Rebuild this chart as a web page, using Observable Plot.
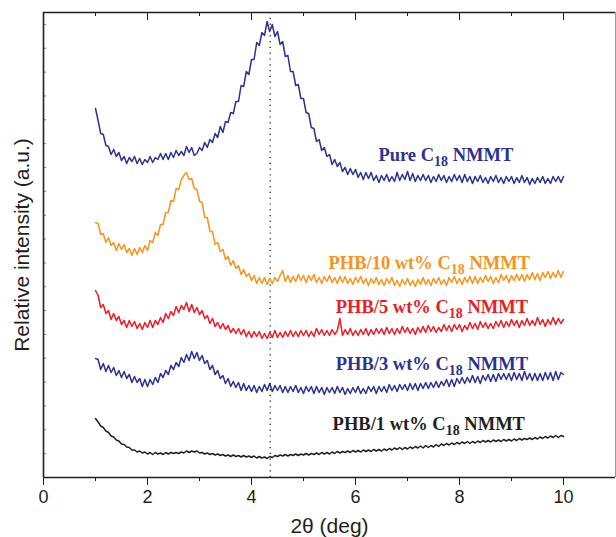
<!DOCTYPE html>
<html><head><meta charset="utf-8">
<script src="https://cdn.jsdelivr.net/npm/d3@7"></script>
<script src="https://cdn.jsdelivr.net/npm/@observablehq/plot@0.6"></script>
<style>body{margin:0;background:#fff}</style>
</head><body><div id="chart"></div>
<script>
// 2θ sampling: first angle and step (deg)
const twoThetaStart = 1.0;
const twoThetaStep = 0.05;

// Relative intensity (a.u.), one value per 0.05° from 1.00° to 10.00°
const pure = [
369,357,344,343,332,331,323,328,321,325,317,321,314,320,316,321,314,319,313,318,
315,321,315,320,318,324,318,324,318,325,320,327,322,326,322,331,325,330,322,324,
330,327,335,330,338,335,344,340,351,345,356,355,365,364,376,376,392,391,406,403,
418,418,435,432,445,442,456,446,453,441,446,433,436,421,422,406,406,392,393,379,
379,365,364,350,349,336,338,327,330,321,323,313,318,311,315,306,310,303,309,303,
308,300,305,298,305,299,305,297,302,295,302,297,303,296,301,296,305,297,303,298,
306,297,304,296,302,297,303,297,302,295,301,296,303,297,302,295,301,296,303,297,
302,295,303,296,301,294,301,296,302,295,300,294,301,296,302,295,300,294,301,296,
301,294,300,295,302,295,300,293,299,294,300,295,301,294,299,294,301,296,301,295,
301];
const phb10 = [
255,254,243,244,235,240,232,235,227,234,228,233,225,229,222,229,223,230,225,232,
227,237,235,245,242,253,253,265,265,277,276,289,288,298,302,305,298,299,289,288,
276,275,260,260,246,246,233,235,226,228,218,221,212,217,209,212,203,208,201,204,
197,202,194,200,194,200,193,199,194,200,196,202,207,196,202,195,201,196,203,197,
202,195,202,197,203,195,200,194,201,196,202,195,200,194,201,195,201,194,199,193,
200,195,201,194,199,192,199,194,200,193,198,192,199,194,200,192,197,191,198,193,
199,192,197,191,198,193,200,193,198,192,199,194,200,193,198,192,200,195,201,194,
199,193,200,195,201,194,201,194,200,195,202,196,201,194,200,195,203,197,202,195,
202,197,203,197,203,196,203,198,205,198,204,197,205,200,206,199,205,200,207,200,
206];
const phb5 = [
187,182,170,173,164,167,158,164,157,161,153,157,150,157,151,156,149,154,148,155,
150,157,150,157,153,160,155,164,159,166,162,171,165,172,168,175,166,173,165,170,
163,167,159,162,154,159,151,155,149,154,148,152,145,149,144,149,143,148,141,146,
140,146,141,146,139,144,139,145,140,147,140,145,140,146,141,147,141,146,141,147,
142,147,141,146,141,149,143,148,142,147,142,148,143,147,159,142,148,143,149,142,
147,142,148,143,149,142,148,143,149,144,149,143,150,144,149,143,149,144,151,145,
150,144,149,143,150,145,151,145,152,146,151,145,150,146,153,147,152,146,153,148,
153,146,152,148,155,149,154,148,156,150,155,149,154,149,156,151,157,150,156,151,
158,152,157,150,157,152,159,152,157,152,160,153,158,151,158,153,160,153,159,154,
158];
const phb3 = [
119,118,108,114,106,112,105,110,102,107,100,106,99,103,95,101,95,99,91,98,
91,98,93,100,95,104,100,107,103,112,108,115,111,120,115,123,117,126,119,125,
117,122,114,117,108,112,103,107,99,102,94,99,91,96,90,95,87,94,87,92,
86,92,85,91,86,93,87,94,86,92,87,92,85,91,85,91,86,92,85,90,
84,91,86,91,84,91,85,90,83,90,85,90,84,91,85,90,83,89,84,90,
85,91,84,89,84,91,86,91,84,91,86,91,85,93,87,92,86,93,88,93,
87,94,88,94,87,94,89,95,89,95,90,96,90,96,92,98,91,98,91,99,
94,100,94,100,95,102,95,101,94,102,97,103,96,103,96,104,98,104,98,104,
97,105,98,104,97,106,98,104,97,104,97,104,97,105,98,105,97,106,98,105,
103];
const phb1 = [
59,55.5,51.5,50,46.5,45,41.5,40.5,37.5,36.5,33.5,33,30.5,30,27.5,27.5,25.5,26.5,24.5,25.5,
23.5,25,23,25,23.5,24.5,23,25,23.5,25,24,25,24,25.5,24.5,26.5,25,26.5,25.5,26.5,
24.5,25,23.5,24.5,23,24,22.5,23.5,22,23,21.5,22.5,21,22.5,21,22,20.5,22,20.5,21.5,
20,21.5,19.5,21,19.5,20.5,19,21,20,22,21,22.5,21.5,23,21.5,23,22,23.5,22,23.5,
22.5,24,22.5,24,23,24.5,23,25,23.5,25,23.5,25.5,24,26,24.5,26,25,26.5,25,27,
25.5,27,25.5,27.5,26,27.5,26,28,26.5,28,26.5,28.5,27,29,27.5,29.5,28,30,28,30,
28.5,30.5,29,31,29.5,31.5,29.5,32,30,32,30.5,33,31,33.5,32,34,32.5,34.5,33,35,
33.5,35.5,34,36,34,36,34.5,36.5,35,37,35.5,37,35.5,37.5,36,37.5,36,38,36.5,38,
36.5,38.5,37,39,37.5,39,38,39.5,38,40,38.5,40.5,39,41,39.5,41.5,40,42,40,42,
41];

const seriesNames = ["Pure C18 NMMT", "PHB/10 wt% C18 NMMT", "PHB/5 wt% C18 NMMT", "PHB/3 wt% C18 NMMT", "PHB/1 wt% C18 NMMT"];
const seriesColors = ["#2e3192", "#f7941d", "#ed1c24", "#2e3192", "#231f20"];
const labelAngle = [6.44, 5.48, 5.62, 5.62, 5.56];
const labelIntensity = [317, 209, 165, 108, 48];
const xTicks = [0, 2, 4, 6, 8, 10];
const xMinorTicks = [1, 3, 5, 7, 9];
const peakAngle = 4.36;
const intensityTop = 465;
const intensityTicks = d3.range(1, 20).map(k => k * intensityTop / 19.5);

const seriesValues = [pure, phb10, phb5, phb3, phb1];
const rows = seriesValues.flatMap((vals, s) =>
  vals.map((v, i) => ({series: seriesNames[s], angle: +(twoThetaStart + i * twoThetaStep).toFixed(2), intensity: v})));
const labelRows = seriesNames.map((n, i) => ({series: n, angle: labelAngle[i], intensity: labelIntensity[i]}));

const ink = "#231f20";
const chart = Plot.plot({
  width: 616, height: 537,
  marginLeft: 43, marginRight: 1, marginTop: 12, marginBottom: 60,
  style: {fontFamily: "'Liberation Sans', Arial, sans-serif", fontSize: "18px", color: ink, background: "#fff"},
  x: {domain: [0, 11], label: null},
  y: {domain: [0, intensityTop], label: null, axis: null},
  color: {domain: seriesNames, range: seriesColors},
  marks: [
    Plot.ruleX([peakAngle], {stroke: ink, strokeWidth: 1.3, strokeDasharray: "1.2,4.6"}),
    Plot.line(rows, {x: "angle", y: "intensity", z: "series", stroke: "series", strokeWidth: 1.5}),
    Plot.text(labelRows, {x: "angle", y: "intensity", text: "series", fill: "series",
      textAnchor: "start", lineAnchor: "bottom", fontFamily: "'Liberation Serif', 'Times New Roman', serif",
      fontWeight: "bold", fontSize: 18.5}),
    Plot.axisX(xTicks, {anchor: "bottom", tickSize: 8, tickPadding: 5, fontSize: 18, label: null, stroke: ink}),
    Plot.axisX(xMinorTicks, {anchor: "bottom", tickSize: 4, tickFormat: () => "", label: null, stroke: ink}),
    // inward ticks on the top edge and the left edge
    Plot.ruleX(xTicks, {x: d => d, y1: intensityTop, y2: intensityTop - 8, stroke: ink, strokeWidth: 1}),
    Plot.ruleX(xMinorTicks, {x: d => d, y1: intensityTop, y2: intensityTop - 4, stroke: ink, strokeWidth: 1}),
    Plot.ruleY(intensityTicks, {y: d => d, x1: 0, x2: 0.06, stroke: "#888", strokeWidth: 1}),
    Plot.ruleX([11], {stroke: "#9a9a9a", strokeWidth: 1}),
    Plot.ruleY([0], {stroke: ink, strokeWidth: 1.6}),
    Plot.ruleY([intensityTop], {stroke: ink, strokeWidth: 1.3}),
    Plot.ruleX([0], {stroke: ink, strokeWidth: 1.6}),
    Plot.text(["2θ (deg)"], {frameAnchor: "bottom", textAnchor: "middle", dy: 55, lineAnchor: "bottom", fontSize: 21, fill: ink}),
    Plot.text(["Relative intensity (a.u.)"], {frameAnchor: "left", textAnchor: "middle", lineAnchor: "middle", dx: -21, rotate: -90, fontSize: 21, fill: ink})
  ]
});
document.getElementById("chart").appendChild(chart);

// Subscript the "18" of C18 in the series labels
d3.select(chart).selectAll("text")
  .filter(function () { return this.textContent.includes("C18"); })
  .each(function () {
    const parts = this.textContent.split("C18");
    const sel = d3.select(this);
    sel.text(null);
    sel.append("tspan").text(parts[0] + "C");
    sel.append("tspan").attr("dy", 5).attr("font-size", 14).text("18");
    sel.append("tspan").attr("dy", -5).text(parts[1]);
  });
</script>
</body></html>
